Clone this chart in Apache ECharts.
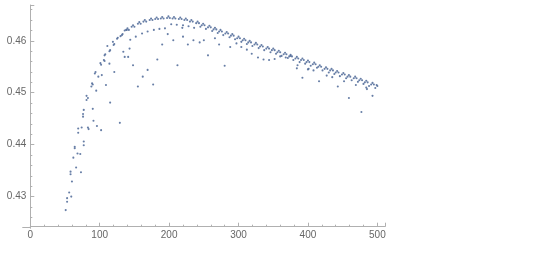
<!DOCTYPE html>
<html><head><meta charset="utf-8">
<script src="https://cdn.jsdelivr.net/npm/echarts@6/dist/echarts.min.js"></script>
<style>html,body{margin:0;padding:0;background:#fff}#c{width:540px;height:254px}</style>
</head><body><div id="c"></div>
<script>
// x tick labels
const xTicks = [0, 100, 200, 300, 400, 500];
const yTicks = [0.43, 0.44, 0.45, 0.46];

// steep rising left part (n < 140)
const leftPoints = [[51,0.4274],[53,0.4290],[53,0.4297],[56,0.4308],[59,0.4300],[60,0.4329],[58,0.4343],[58,0.4348],[66,0.4356],[73,0.4347],[62,0.4375],[64,0.4393],[64,0.4396],[68,0.4383],[72,0.4382],[77,0.4399],[77,0.4406],[69,0.4423],[69,0.4431],[74,0.4433],[83,0.4433],[84,0.4430],[96,0.4436],[102,0.4428],[91,0.4446],[76,0.4454],[76,0.4459],[77,0.4467],[90,0.4469],[129,0.4442],[81,0.4486],[81,0.4494],[83,0.4490],[115,0.4481],[88,0.4512],[89,0.4518],[90,0.4516],[95,0.4504],[109,0.4515],[93,0.4537],[94,0.4540],[98,0.4531],[103,0.4534],[101,0.4557],[102,0.4554],[106,0.4563],[107,0.4561],[114,0.4556],[121,0.4540],[107,0.4572],[108,0.4574],[115,0.4582],[114,0.4580],[111,0.4590],[120,0.4592],[121,0.4594],[119,0.4598],[126,0.4606],[125,0.4604],[134,0.4579],[136,0.4569],[132,0.4611],[133,0.4613],[139,0.4621],[136,0.4620],[130,0.4609]];

// main upper band (arches + row just beneath)
const upperBand = [
[138,0.4621],[140,0.4624],[142,0.4621],[144,0.4602],
[146,0.4627],[148,0.4630],[150,0.4627],[152,0.4608],
[155,0.4633],[157,0.4636],[159,0.4633],[161,0.4614],
[163,0.4637],[165,0.4640],[167,0.4637],[169,0.4618],
[172,0.4640],[174,0.4643],[176,0.4640],[178,0.4621],
[180,0.4642],[182,0.4645],[184,0.4642],[186,0.4623],
[188,0.4643],[190,0.4646],[192,0.4643],[194,0.4624],
[197,0.4644],[199,0.4647],[201,0.4644],[203,0.4632],
[205,0.4643],[207,0.4646],[209,0.4643],[211,0.4631],
[214,0.4642],[216,0.4645],[218,0.4642],[220,0.4630],
[222,0.4640],[224,0.4643],[226,0.4640],[228,0.4628],
[230,0.4637],[232,0.4640],[234,0.4637],[236,0.4625],
[239,0.4634],[241,0.4637],[243,0.4634],[245,0.4627],
[247,0.4630],[249,0.4633],[251,0.4630],[253,0.4623],
[256,0.4626],[258,0.4629],[260,0.4626],[262,0.4619],
[264,0.4622],[266,0.4625],[268,0.4622],[270,0.4615],
[272,0.4618],[274,0.4621],[276,0.4618],[278,0.4611],
[281,0.4614],[283,0.4617],[285,0.4614],[287,0.4607],
[289,0.4610],[291,0.4613],[293,0.4610],[295,0.4603],
[298,0.4605],[300,0.4608],[302,0.4605],[304,0.4598],
[306,0.4601],[308,0.4604],[310,0.4601],[312,0.4594],
[314,0.4597],[316,0.4600],[318,0.4597],[320,0.4590],
[323,0.4593],[325,0.4596],[327,0.4593],[329,0.4586],
[331,0.4589],[333,0.4592],[335,0.4589],[337,0.4582],
[340,0.4585],[342,0.4588],[344,0.4585],[346,0.4578],
[348,0.4582],[350,0.4585],[352,0.4582],[354,0.4575],
[356,0.4578],[358,0.4581],[360,0.4578],[362,0.4571],
[365,0.4574],[367,0.4577],[369,0.4574],[371,0.4567],
[373,0.4570],[375,0.4573],[377,0.4570],[379,0.4563],
[382,0.4566],[384,0.4569],[386,0.4566],[388,0.4559],
[390,0.4563],[392,0.4566],[394,0.4563],[396,0.4556],
[398,0.4559],[400,0.4562],[402,0.4559],[404,0.4552],
[407,0.4555],[409,0.4558],[411,0.4555],[413,0.4548],
[415,0.4550],[417,0.4553],[419,0.4550],[421,0.4543],
[424,0.4546],[426,0.4549],[428,0.4546],[430,0.4539],
[432,0.4543],[434,0.4546],[436,0.4543],[438,0.4536],
[440,0.4539],[442,0.4542],[444,0.4539],[446,0.4532],
[449,0.4535],[451,0.4538],[453,0.4535],[455,0.4528],
[457,0.4531],[459,0.4534],[461,0.4531],[463,0.4524],
[466,0.4528],[468,0.4531],[470,0.4528],[472,0.4521],
[474,0.4524],[476,0.4527],[478,0.4524],[480,0.4517],
[482,0.4520],[484,0.4523],[486,0.4520],[488,0.4513],
[491,0.4516],[493,0.4519],[495,0.4516],[497,0.4509],
[499,0.4515],[500,0.4513]];

// third row on the right side
const lowerRow = [[385,0.4553],[401,0.4546],[427,0.4533],[435,0.4530],[452,0.4522],[469,0.4515],[485,0.4507]];

// scattered lower points
const scattered = [[141,0.4569],[143,0.4585],[148,0.4553],[155,0.4512],[162,0.4531],[169,0.4544],[177,0.4516],[183,0.4564],[190,0.4593],[198,0.4613],[206,0.4601],[212,0.4553],[219,0.4625],[220,0.4608],[227,0.4593],[235,0.4601],[244,0.4597],[250,0.4601],[256,0.4572],[266,0.4605],[272,0.4593],[280,0.4552],[288,0.4588],[297,0.4595],[304,0.4588],[312,0.4583],[319,0.4575],[328,0.4568],[336,0.4564],[344,0.4563],[352,0.4565],[360,0.4570],[368,0.4568],[375,0.4571],[384,0.4547],[392,0.4529],[400,0.4545],[408,0.4543],[416,0.4522],[443,0.4512],[459,0.4490],[477,0.4463],[484,0.4510],[493,0.4494]];

const allPoints = leftPoints.concat(upperBand, lowerRow, scattered);

const chart = echarts.init(document.getElementById('c'), null, {renderer: 'canvas'});
const axisColor = '#b0b0b0';
const labelColor = '#666666';
function isMajor(v, list) { return list.some(t => Math.abs(t - v) < 1e-7); }
chart.setOption({
  animation: false,
  backgroundColor: '#ffffff',
  grid: {left: 30.3, right: 155, top: 5, bottom: 27.3, containLabel: false},
  xAxis: {
    type: 'value', min: 0, max: 511, interval: 100,
    axisLine: {show: true, onZero: false, lineStyle: {color: axisColor, width: 1}},
    axisTick: {show: true, inside: true, length: 4, lineStyle: {color: axisColor}},
    minorTick: {show: true, splitNumber: 5, length: 2, lineStyle: {color: axisColor}},
    splitLine: {show: false},
    axisLabel: {color: labelColor, fontSize: 10, fontFamily: 'Liberation Sans, Arial, sans-serif', margin: 4,
      formatter: v => isMajor(v, xTicks) ? String(v) : ''}
  },
  yAxis: {
    type: 'value', min: 0.4242, max: 0.4669, splitNumber: 4,
    axisLine: {show: true, onZero: false, lineStyle: {color: axisColor, width: 1}},
    axisTick: {show: true, inside: true, length: 4, lineStyle: {color: axisColor}},
    minorTick: {show: true, splitNumber: 5, length: 2, lineStyle: {color: axisColor}},
    splitLine: {show: false},
    axisLabel: {color: labelColor, fontSize: 10, fontFamily: 'Liberation Sans, Arial, sans-serif', margin: 4,
      formatter: v => isMajor(v, yTicks) ? v.toFixed(2) : ''}
  },
  series: [{
    type: 'scatter', data: allPoints, symbol: 'circle', symbolSize: 2.1,
    itemStyle: {color: '#56709c', opacity: 0.9}, silent: true
  }]
});
// extend the axis lines slightly past the origin, as in the reference
const o = chart.convertToPixel({gridIndex: 0}, [0, 0.4242]);
chart.setOption({
  graphic: [
    {type: 'line', silent: true, shape: {x1: o[0] - 8, y1: Math.round(o[1]) + 0.5, x2: o[0], y2: Math.round(o[1]) + 0.5}, style: {stroke: axisColor, lineWidth: 1}},
    {type: 'line', silent: true, shape: {x1: Math.round(o[0]) + 0.5, y1: o[1], x2: Math.round(o[0]) + 0.5, y2: o[1] + 2}, style: {stroke: axisColor, lineWidth: 1}}
  ]
});
</script></body></html>
